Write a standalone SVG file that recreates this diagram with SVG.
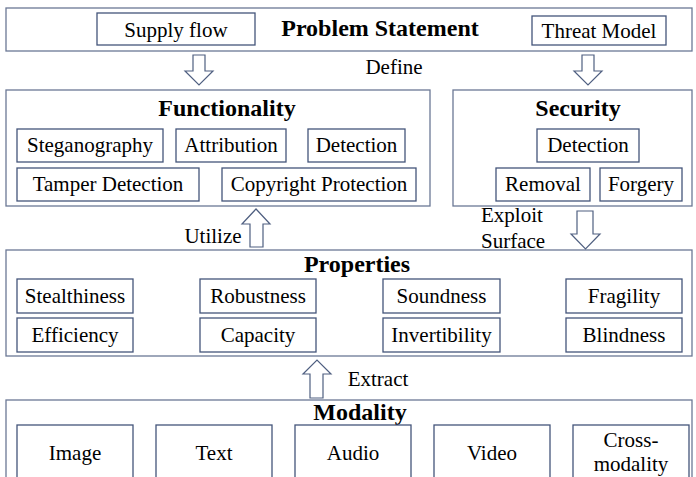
<svg xmlns="http://www.w3.org/2000/svg" width="696" height="477" viewBox="0 0 696 477">
<defs>
<style>
.outer{fill:#fff;stroke:#6b7895;stroke-width:1.3}
.box{fill:#fff;stroke:#44557a;stroke-width:1.3}
.arrow{fill:#fff;stroke:#4f5f80;stroke-width:1.2}
</style>
</defs>
<rect width="696" height="477" fill="#fff"/>
<g id="problem">
<rect class="outer" x="6" y="8" width="686" height="43"/>
<text style="font-family:Liberation Serif,serif" font-family="Liberation Serif" font-size="24" font-weight="bold" text-anchor="middle" x="380" y="36">Problem Statement</text>
</g>
<g id="supply"><rect class="box" x="97" y="13" width="158" height="32"/><text style="font-family:Liberation Serif,serif" font-family="Liberation Serif" font-size="21" text-anchor="middle" x="176" y="37">Supply flow</text></g>
<g id="threat"><rect class="box" x="532" y="16" width="134" height="29"/><text style="font-family:Liberation Serif,serif" font-family="Liberation Serif" font-size="21" text-anchor="middle" x="599" y="38">Threat Model</text></g>

<g id="functionality">
<rect class="outer" x="6" y="90" width="424" height="116"/>
<text style="font-family:Liberation Serif,serif" font-family="Liberation Serif" font-size="24" font-weight="bold" text-anchor="middle" x="227" y="116">Functionality</text>
</g>
<g id="steg"><rect class="box" x="17" y="129" width="146" height="33"/><text style="font-family:Liberation Serif,serif" font-family="Liberation Serif" font-size="21" text-anchor="middle" x="90" y="152">Steganography</text></g>
<g id="attr"><rect class="box" x="176" y="129" width="110" height="33"/><text style="font-family:Liberation Serif,serif" font-family="Liberation Serif" font-size="21" text-anchor="middle" x="231" y="152">Attribution</text></g>
<g id="fdet"><rect class="box" x="308" y="129" width="97" height="33"/><text style="font-family:Liberation Serif,serif" font-family="Liberation Serif" font-size="21" text-anchor="middle" x="356.5" y="152">Detection</text></g>
<g id="tamper"><rect class="box" x="17" y="168" width="182" height="33"/><text style="font-family:Liberation Serif,serif" font-family="Liberation Serif" font-size="21" text-anchor="middle" x="108" y="191">Tamper Detection</text></g>
<g id="copyright"><rect class="box" x="222" y="168" width="194" height="33"/><text style="font-family:Liberation Serif,serif" font-family="Liberation Serif" font-size="21" text-anchor="middle" x="319" y="191">Copyright Protection</text></g>

<g id="security">
<rect class="outer" x="453" y="90" width="239" height="116"/>
<text style="font-family:Liberation Serif,serif" font-family="Liberation Serif" font-size="24" font-weight="bold" text-anchor="middle" x="578" y="116">Security</text>
</g>
<g id="sdet"><rect class="box" x="537" y="129" width="102" height="33"/><text style="font-family:Liberation Serif,serif" font-family="Liberation Serif" font-size="21" text-anchor="middle" x="588" y="152">Detection</text></g>
<g id="removal"><rect class="box" x="496" y="168" width="94" height="33"/><text style="font-family:Liberation Serif,serif" font-family="Liberation Serif" font-size="21" text-anchor="middle" x="543" y="191">Removal</text></g>
<g id="forgery"><rect class="box" x="600" y="168" width="82" height="33"/><text style="font-family:Liberation Serif,serif" font-family="Liberation Serif" font-size="21" text-anchor="middle" x="641" y="191">Forgery</text></g>

<g id="properties">
<rect class="outer" x="6" y="250" width="686" height="106"/>
<text style="font-family:Liberation Serif,serif" font-family="Liberation Serif" font-size="24" font-weight="bold" text-anchor="middle" x="357" y="272">Properties</text>
</g>
<g id="stealth"><rect class="box" x="17" y="279" width="116" height="34"/><text style="font-family:Liberation Serif,serif" font-family="Liberation Serif" font-size="21" text-anchor="middle" x="75" y="303">Stealthiness</text></g>
<g id="eff"><rect class="box" x="17" y="318" width="116" height="34"/><text style="font-family:Liberation Serif,serif" font-family="Liberation Serif" font-size="21" text-anchor="middle" x="75" y="342">Efficiency</text></g>
<g id="robust"><rect class="box" x="200" y="279" width="116" height="34"/><text style="font-family:Liberation Serif,serif" font-family="Liberation Serif" font-size="21" text-anchor="middle" x="258" y="303">Robustness</text></g>
<g id="capacity"><rect class="box" x="200" y="318" width="116" height="34"/><text style="font-family:Liberation Serif,serif" font-family="Liberation Serif" font-size="21" text-anchor="middle" x="258" y="342">Capacity</text></g>
<g id="sound"><rect class="box" x="383" y="279" width="117" height="34"/><text style="font-family:Liberation Serif,serif" font-family="Liberation Serif" font-size="21" text-anchor="middle" x="441.5" y="303">Soundness</text></g>
<g id="invert"><rect class="box" x="383" y="318" width="117" height="34"/><text style="font-family:Liberation Serif,serif" font-family="Liberation Serif" font-size="21" text-anchor="middle" x="441.5" y="342">Invertibility</text></g>
<g id="fragile"><rect class="box" x="566" y="279" width="116" height="34"/><text style="font-family:Liberation Serif,serif" font-family="Liberation Serif" font-size="21" text-anchor="middle" x="624" y="303">Fragility</text></g>
<g id="blind"><rect class="box" x="566" y="318" width="116" height="34"/><text style="font-family:Liberation Serif,serif" font-family="Liberation Serif" font-size="21" text-anchor="middle" x="624" y="342">Blindness</text></g>

<g id="modality">
<rect class="outer" x="6" y="400" width="686" height="85"/>
<text style="font-family:Liberation Serif,serif" font-family="Liberation Serif" font-size="24" font-weight="bold" text-anchor="middle" x="360" y="420">Modality</text>
</g>
<g id="image"><rect class="box" x="17" y="425" width="116" height="60"/><text style="font-family:Liberation Serif,serif" font-family="Liberation Serif" font-size="21" text-anchor="middle" x="75" y="460">Image</text></g>
<g id="text"><rect class="box" x="156" y="425" width="116" height="60"/><text style="font-family:Liberation Serif,serif" font-family="Liberation Serif" font-size="21" text-anchor="middle" x="214" y="460">Text</text></g>
<g id="audio"><rect class="box" x="295" y="425" width="116" height="60"/><text style="font-family:Liberation Serif,serif" font-family="Liberation Serif" font-size="21" text-anchor="middle" x="353" y="460">Audio</text></g>
<g id="video"><rect class="box" x="434" y="425" width="116" height="60"/><text style="font-family:Liberation Serif,serif" font-family="Liberation Serif" font-size="21" text-anchor="middle" x="492" y="460">Video</text></g>
<g id="cross"><rect class="box" x="573" y="425" width="116" height="60"/><text style="font-family:Liberation Serif,serif" font-family="Liberation Serif" font-size="21" text-anchor="middle" x="631" y="447">Cross-</text><text style="font-family:Liberation Serif,serif" font-family="Liberation Serif" font-size="21" text-anchor="middle" x="631" y="471">modality</text></g>

<g id="connectors">
<path class="arrow" d="M193,55 H205 V71 H213 L199,85 L185,71 H193 Z"/>
<path class="arrow" d="M582,55 H594 V71 H602 L588,85 L574,71 H582 Z"/>
<path class="arrow" d="M250,247 V224 H242 L256,209 L270,224 H263 V247 Z"/>
<path class="arrow" d="M577,211 H593 V234 H600 L585.5,249 L571,234 H577 Z"/>
<path class="arrow" d="M310,398 V374 H303 L317,360 L331,374 H323 V398 Z"/>
<text style="font-family:Liberation Serif,serif" font-family="Liberation Serif" font-size="21" text-anchor="middle" x="394" y="74">Define</text>
<text style="font-family:Liberation Serif,serif" font-family="Liberation Serif" font-size="21" text-anchor="middle" x="213" y="243">Utilize</text>
<text style="font-family:Liberation Serif,serif" font-family="Liberation Serif" font-size="21" text-anchor="middle" x="378" y="386">Extract</text>
<text style="font-family:Liberation Serif,serif" font-family="Liberation Serif" font-size="21" x="481" y="222">Exploit</text>
<text style="font-family:Liberation Serif,serif" font-family="Liberation Serif" font-size="21" x="481" y="248">Surface</text>
</g>
</svg>
